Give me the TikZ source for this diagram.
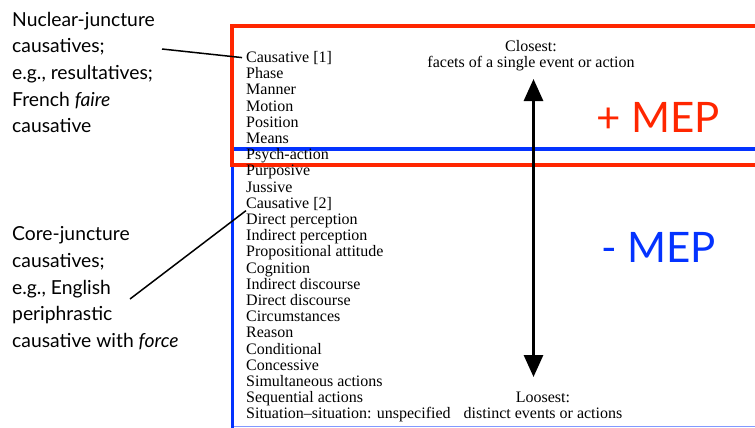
\documentclass[tikz,border=0pt]{standalone}
\usepackage{fontspec}
\setmainfont{Liberation Serif}
\setsansfont{Lato}
\usepackage{tikz}
\usetikzlibrary{arrows.meta,positioning,calc}
\definecolor{mepred}{HTML}{FF2600}
\definecolor{mepblue}{HTML}{0433FF}

\begin{document}
\begin{tikzpicture}[
  x=1pt, y=-1pt,
  item/.style={anchor=base west, inner sep=0pt, font=\fontsize{16}{16}\selectfont},
  note/.style={anchor=base west, inner sep=0pt, align=left,
    font=\sffamily\fontsize{19.3}{26.6}\selectfont},
  mep/.style={anchor=base west, inner sep=0pt,
    font=\sffamily\fontsize{42}{42}\selectfont},
  pole/.style={anchor=base, inner sep=0pt, align=center,
    font=\fontsize{16}{16.4}\selectfont},
  callout/.style={line width=1.5pt, shorten >=4pt},
  tightness/.style={line width=3pt, {Triangle[length=22pt,width=19pt]}-{Triangle[length=22pt,width=19pt]}}
]
\useasboundingbox (0,0) rectangle (755,428);

% frames
\draw[mepblue!50, line width=1pt] (232,426.5) -- (755,426.5);
\draw[mepblue, line width=3.5pt] (755,149) -- (232.5,149) -- (232.5,428);
\draw[mepred, line width=4pt] (755,26) -| (232,164.5) -- (755,164.5);

% clause linkage relations
\foreach \txt [count=\i from 0] in {Causative [1], Phase, Manner, Motion,
    Position, Means, Psych-action, Purposive, Jussive, Causative [2],
    Direct perception, Indirect perception, Propositional attitude,
    Cognition, Indirect discourse, Direct discourse, Circumstances, Reason,
    Conditional, Concessive, Simultaneous actions, Sequential actions,
    Situation--situation: unspecified}
  \node[item] (item\i) at (246,{62.5+16.2*\i}) {\txt};

% base of a two-line node = its last line
\node[pole] (closest) at (531,67.5) {Closest:\\facets of a single event or action};
\node[pole] (loosest) at (543,418.9) {Loosest:\\distinct events or actions};
\coordinate (top) at (533.5,79);
\coordinate (bottom) at (533.5,377);
\draw[tightness] (top) -- (bottom);

\node[mep, text=mepred] (plus) at (596,132) {+ MEP};
\node[mep, text=mepblue] (minus) at (601,262.5) {- MEP};

% annotations
\node[note] (nuclear) at (12,132.7) {Nuclear-juncture\\causatives;\\e.g., resultatives;\\French \textit{faire}\\causative};
\node[note] (core) at (12,347.3) {Core-juncture\\causatives;\\e.g., English\\periphrastic\\causative with \textit{force}};
\coordinate (nucfoot) at (162,49);
\coordinate (corefoot) at (130,299);
\draw[callout] (nucfoot) -- (item0.west);
\draw[callout, shorten >=0pt] (corefoot) -- (item9.south west);
\end{tikzpicture}
\end{document}
